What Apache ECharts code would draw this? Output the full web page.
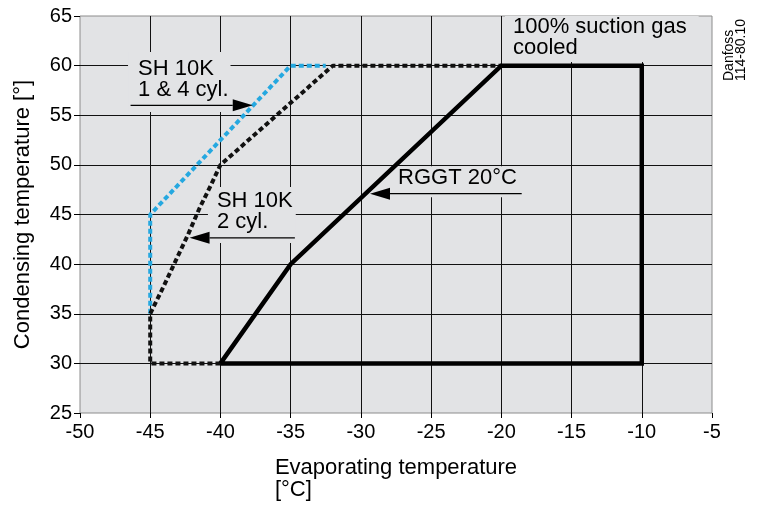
<!DOCTYPE html>
<html>
<head>
<meta charset="utf-8">
<script src="https://cdn.jsdelivr.net/npm/echarts@6/dist/echarts.min.js"></script>
<style>
html,body{margin:0;padding:0;background:#fff;}
#c{width:758px;height:505px;}
</style>
</head>
<body>
<div id="c"></div>
<script>
// ---- data (°C) ----
const rggt20 = [[-40,30],[-35,40],[-20,60],[-10,60],[-10,30],[-40,30]];
const sh10k2cyl = [[-40,30],[-45,30],[-45,35],[-44.1,37.6],[-43.2,40.3],[-42.3,43.0],[-41.5,45.6],[-40.7,47.9],[-40,50],[-32,60],[-20,60]];
const sh10k14cyl = [[-45,35],[-45,45],[-35,60],[-32.5,60]];

const xTicks = {min:-50, max:-5, step:5};
const yTicks = {min:25, max:65, step:5};

// annotation labels: text and top-left anchor (data coords)
const labelTexts = ['SH 10K\n1 & 4 cyl.', 'SH 10K\n2 cyl.', 'RGGT 20°C', '100% suction gas\ncooled'];
const labelAnchors = [[-46.58,61.37],[-40.89,47.76],[-27.57,49.87],[-19.74,65]];
// arrows: [from, to] in data coords (tip at "to")
const arrowFrom = [[-46.4,56.0],[-34.7,42.65],[-18.55,47.1]];
const arrowTo   = [[-37.7,56.0],[-42.2,42.65],[-29.35,47.1]];

const FONT = '"Liberation Sans", Arial, Helvetica, sans-serif';
const BG = '#e2e3e5';

const chart = echarts.init(document.getElementById('c'), null, {renderer:'canvas'});
const option = {
  animation:false,
  backgroundColor:'#fff',
  grid:{left:80,right:46,top:16,bottom:92,show:true,backgroundColor:BG,borderColor:'#8c8c8c',borderWidth:1,containLabel:false,outerBoundsMode:'none'},
  xAxis:{
    type:'value',min:xTicks.min,max:xTicks.max,interval:xTicks.step,
    name:'{a|Evaporating temperature}\n{a|[°C]}',
    nameLocation:'middle',nameGap:44,
    nameTextStyle:{fontFamily:FONT,fontSize:22,color:'#000',lineHeight:22,align:'center',verticalAlign:'top',
      rich:{a:{fontFamily:FONT,fontSize:22,color:'#000',lineHeight:22,align:'left'}}},
    axisLine:{show:false},
    axisTick:{show:true,length:5,lineStyle:{color:'#000',width:1}},
    axisLabel:{fontFamily:FONT,fontSize:20,color:'#000',margin:9},
    splitLine:{show:true,showMinLine:false,showMaxLine:false,lineStyle:{color:'#111',width:1}}
  },
  yAxis:{
    type:'value',min:yTicks.min,max:yTicks.max,interval:yTicks.step,
    name:'Condensing temperature [°]',
    nameLocation:'middle',nameGap:46,
    nameTextStyle:{fontFamily:FONT,fontSize:22,color:'#000'},
    axisLine:{show:false},
    axisTick:{show:true,length:6,lineStyle:{color:'#000',width:1}},
    axisLabel:{fontFamily:FONT,fontSize:20,color:'#000',margin:8},
    splitLine:{show:true,showMinLine:false,showMaxLine:false,lineStyle:{color:'#111',width:1}}
  },
  series:[
    {name:'SH 10K 1 & 4 cyl.',type:'line',data:sh10k14cyl,showSymbol:false,symbol:'none',z:3,
     lineStyle:{color:'#25a8e0',width:4,type:[5,3]}},
    {name:'SH 10K 2 cyl.',type:'line',data:sh10k2cyl,showSymbol:false,symbol:'none',z:4,
     lineStyle:{color:'#111',width:4,type:[5,3]}},
    {name:'RGGT 20°C',type:'line',data:rggt20,showSymbol:false,symbol:'none',z:5,
     lineStyle:{color:'#000',width:4.5,join:'miter'}}
  ]
};
chart.setOption(option);

const pads = [[6,2,12,10],[3,3,11,9],[1,3,9,3],[0,12,4,8]];
const els = [];
labelTexts.forEach((t,i)=>{
  const p = chart.convertToPixel({gridIndex:0}, labelAnchors[i]);
  els.push({type:'text',x:p[0],y:p[1],z:1,silent:true,
    style:{text:t,fontFamily:FONT,fontSize:22,lineHeight:21,fill:'#000',align:'left',verticalAlign:'top',
      backgroundColor:BG,padding:pads[i]}});
});
arrowFrom.forEach((f,i)=>{
  const a = chart.convertToPixel({gridIndex:0}, f);
  const b = chart.convertToPixel({gridIndex:0}, arrowTo[i]);
  const dir = Math.sign(b[0]-a[0]);
  const L = 20, W = 6;
  els.push({type:'line',z:10,silent:true,shape:{x1:a[0],y1:a[1],x2:b[0]-dir*L,y2:b[1]},style:{stroke:'#000',lineWidth:1.2}});
  els.push({type:'polygon',z:10,silent:true,shape:{points:[[b[0],b[1]],[b[0]-dir*L,b[1]-W],[b[0]-dir*L,b[1]+W]]},style:{fill:'#000'}});
});
els.push({type:'text',x:723,y:81,rotation:Math.PI/2,z:10,silent:true,
  style:{text:'Danfoss\n114-80.10',fontFamily:FONT,fontSize:14,lineHeight:12,fill:'#000',align:'left',verticalAlign:'top'}});
chart.setOption({graphic:{elements:els}});
</script>
</body>
</html>
